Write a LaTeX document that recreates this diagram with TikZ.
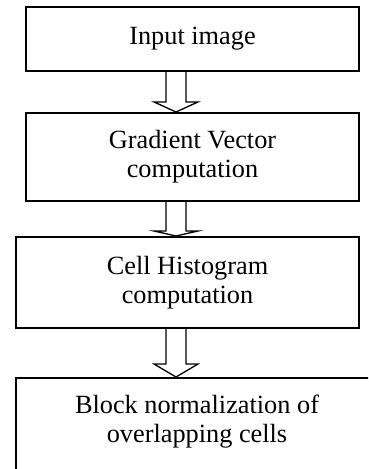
\documentclass[tikz,border=0pt]{standalone}
\usepackage{fontspec}
\setmainfont{Liberation Serif}
\usetikzlibrary{calc}
% #1 upper node, #2 lower node, #3 head height (px)
\newcommand\blockarrow[3]{%
  \draw[arrline] ($(ax|-#1.south)+(-10,0)$) -- ($(ax|-#2.north)+(-10,-#3)$)
    -- ($(ax|-#2.north)+(-22,-#3)$) -- (ax|-#2.north)
    -- ($(ax|-#2.north)+(22,-#3)$) -- ($(ax|-#2.north)+(10,-#3)$)
    -- ($(ax|-#1.south)+(10,0)$);}
\begin{document}
\begin{tikzpicture}[x=0.5pt,y=-0.5pt,
  stepbox/.style={draw,line width=1pt,align=center,inner sep=0pt,
    font=\fontsize{13.15}{14.5}\selectfont},
  arrline/.style={line width=0.65pt,line join=miter}]
\useasboundingbox (0,0) rectangle (368,469);
\clip (0,0) rectangle (368,469);
\fill[white] (0,0) rectangle (368,469);
\node[stepbox,minimum width=166.5pt,minimum height=32pt] (b1) at (192.5,39) {Input image};
\node[stepbox,minimum width=166.5pt,minimum height=44pt] (b2) at (192.5,157) {Gradient Vector\\computation};
\node[stepbox,minimum width=171.5pt,minimum height=45.5pt] (b3) at (187.5,282.5) {Cell Histogram\\computation};
\node[stepbox,minimum width=181pt,inner ysep=8.5pt,anchor=north] (b4) at (197,377) {Block normalization of\\overlapping cells\rule[-40pt]{0pt}{1pt}};
\coordinate (ax) at (176,0);
\blockarrow{b1}{b2}{10}
\blockarrow{b2}{b3}{5}
\blockarrow{b3}{b4}{13}
\end{tikzpicture}
\end{document}
